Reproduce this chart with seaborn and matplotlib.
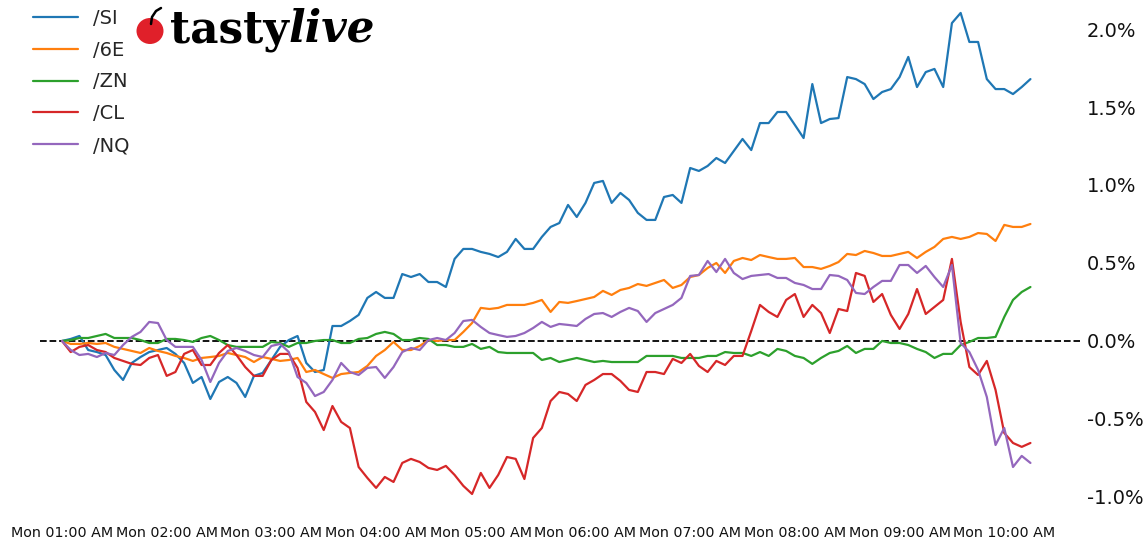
import numpy as np
import pandas as pd
import matplotlib
matplotlib.use("Agg")
import matplotlib.pyplot as plt
import matplotlib.dates as mdates
import matplotlib.ticker as mticker
from matplotlib.patches import Ellipse
from matplotlib.lines import Line2D
import seaborn as sns

# ---------------- data (percent change) ----------------
start_time = "2024-01-01 01:00"   # a Monday
n_points = 112
series_names = ["/SI", "/6E", "/ZN", "/CL", "/NQ"]
series_colors = ["#1f77b4", "#ff7f0e", "#2ca02c", "#d62728", "#9467bd"]

si = [0, 0.013, 0.032, -0.058, -0.071, -0.090, -0.186, -0.250, -0.141, -0.103,
      -0.071, -0.058, -0.045, -0.083, -0.141, -0.269, -0.231, -0.372, -0.263, -0.231,
      -0.269, -0.359, -0.224, -0.205, -0.122, -0.038, 0.006, 0.032, -0.141, -0.199,
      -0.186, 0.096, 0.096, 0.128, 0.167, 0.276, 0.314, 0.276, 0.276, 0.429,
      0.410, 0.429, 0.378, 0.378, 0.346, 0.526, 0.590, 0.590, 0.571, 0.558,
      0.538, 0.571, 0.654, 0.590, 0.590, 0.667, 0.731, 0.756, 0.872, 0.795,
      0.885, 1.013, 1.026, 0.885, 0.949, 0.904, 0.821, 0.776, 0.776, 0.923,
      0.936, 0.885, 1.109, 1.090, 1.122, 1.173, 1.141, 1.218, 1.295, 1.224,
      1.397, 1.397, 1.468, 1.468, 1.385, 1.301, 1.647, 1.397, 1.423, 1.429,
      1.692, 1.679, 1.647, 1.551, 1.596, 1.615, 1.692, 1.821, 1.628, 1.724,
      1.744, 1.628, 2.038, 2.103, 1.917, 1.917, 1.679, 1.615, 1.615, 1.583,
      1.628, 1.679]

e6 = [0, -0.019, -0.019, -0.013, -0.019, -0.013, -0.038, -0.051, -0.064, -0.077,
      -0.045, -0.064, -0.077, -0.096, -0.109, -0.128, -0.109, -0.103, -0.096, -0.077,
      -0.090, -0.103, -0.135, -0.103, -0.115, -0.128, -0.122, -0.109, -0.199, -0.186,
      -0.212, -0.237, -0.212, -0.205, -0.199, -0.160, -0.096, -0.058, -0.006, -0.058,
      -0.058, -0.032, 0.006, 0.000, 0.006, 0.006, 0.058, 0.115, 0.212, 0.205,
      0.212, 0.231, 0.231, 0.231, 0.244, 0.263, 0.186, 0.250, 0.244, 0.256,
      0.269, 0.282, 0.321, 0.295, 0.327, 0.340, 0.365, 0.353, 0.372, 0.391,
      0.340, 0.359, 0.410, 0.423, 0.468, 0.500, 0.436, 0.513, 0.532, 0.519,
      0.551, 0.538, 0.526, 0.526, 0.532, 0.474, 0.474, 0.462, 0.481, 0.506,
      0.558, 0.551, 0.577, 0.564, 0.545, 0.545, 0.558, 0.571, 0.532, 0.571,
      0.603, 0.654, 0.667, 0.654, 0.667, 0.692, 0.686, 0.641, 0.744, 0.731,
      0.731, 0.750]

zn = [0, 0.006, 0.019, 0.019, 0.032, 0.045, 0.019, 0.019, 0.019, 0.006,
      -0.013, -0.013, 0.013, 0.013, 0.006, -0.006, 0.019, 0.032, 0.006, -0.026,
      -0.038, -0.038, -0.038, -0.038, -0.006, -0.013, -0.038, -0.013, -0.013, 0.000,
      0.006, 0.006, -0.013, -0.013, 0.013, 0.019, 0.045, 0.058, 0.045, 0.006,
      0.006, 0.019, 0.013, -0.026, -0.026, -0.038, -0.038, -0.019, -0.051, -0.038,
      -0.071, -0.077, -0.077, -0.077, -0.077, -0.122, -0.109, -0.135, -0.122, -0.109,
      -0.122, -0.135, -0.128, -0.135, -0.135, -0.135, -0.135, -0.096, -0.096, -0.096,
      -0.096, -0.109, -0.109, -0.109, -0.096, -0.096, -0.071, -0.077, -0.077, -0.096,
      -0.071, -0.096, -0.051, -0.064, -0.096, -0.109, -0.147, -0.109, -0.077, -0.064,
      -0.032, -0.077, -0.051, -0.051, 0.000, -0.013, -0.013, -0.026, -0.051, -0.071,
      -0.109, -0.083, -0.083, -0.026, -0.006, 0.019, 0.019, 0.026, 0.154, 0.263,
      0.314, 0.346]

cl = [0, -0.071, -0.038, -0.026, -0.058, -0.071, -0.109, -0.128, -0.147, -0.154,
      -0.109, -0.090, -0.224, -0.199, -0.083, -0.058, -0.154, -0.154, -0.077, -0.026,
      -0.090, -0.167, -0.224, -0.224, -0.122, -0.083, -0.083, -0.173, -0.391, -0.455,
      -0.571, -0.417, -0.519, -0.558, -0.808, -0.878, -0.942, -0.872, -0.904, -0.782,
      -0.756, -0.776, -0.814, -0.827, -0.801, -0.859, -0.929, -0.981, -0.846, -0.942,
      -0.859, -0.744, -0.756, -0.885, -0.622, -0.558, -0.385, -0.327, -0.340, -0.385,
      -0.282, -0.250, -0.212, -0.212, -0.256, -0.314, -0.327, -0.199, -0.199, -0.212,
      -0.115, -0.141, -0.083, -0.160, -0.199, -0.128, -0.154, -0.096, -0.096, 0.064,
      0.231, 0.186, 0.154, 0.263, 0.301, 0.154, 0.231, 0.179, 0.051, 0.205,
      0.192, 0.436, 0.417, 0.250, 0.301, 0.167, 0.077, 0.173, 0.333, 0.173,
      0.218, 0.263, 0.526, 0.122, -0.167, -0.218, -0.128, -0.314, -0.590, -0.654,
      -0.679, -0.654]

nq = [0, -0.058, -0.090, -0.083, -0.103, -0.077, -0.090, -0.026, 0.026, 0.058,
      0.122, 0.115, 0.006, -0.038, -0.038, -0.038, -0.122, -0.263, -0.141, -0.064,
      -0.045, -0.064, -0.090, -0.103, -0.032, -0.019, -0.071, -0.231, -0.269, -0.353,
      -0.327, -0.250, -0.141, -0.199, -0.218, -0.173, -0.167, -0.237, -0.167, -0.071,
      -0.045, -0.058, 0.006, 0.019, 0.006, 0.051, 0.128, 0.135, 0.090, 0.051,
      0.038, 0.026, 0.032, 0.051, 0.083, 0.122, 0.090, 0.109, 0.103, 0.096,
      0.141, 0.173, 0.179, 0.154, 0.186, 0.212, 0.192, 0.122, 0.179, 0.205,
      0.231, 0.276, 0.417, 0.423, 0.513, 0.442, 0.526, 0.436, 0.397, 0.417,
      0.423, 0.429, 0.404, 0.404, 0.372, 0.359, 0.333, 0.333, 0.423, 0.417,
      0.391, 0.308, 0.301, 0.346, 0.385, 0.385, 0.487, 0.487, 0.436, 0.481,
      0.410, 0.346, 0.487, -0.013, -0.071, -0.186, -0.359, -0.667, -0.558, -0.808,
      -0.737, -0.782]

y_ticks = [-1.0, -0.5, 0.0, 0.5, 1.0, 1.5, 2.0]

# ---------------- build long table ----------------
times = pd.date_range(start_time, periods=n_points, freq="5min")
frames = []
for name, vals in zip(series_names, [si, e6, zn, cl, nq]):
    frames.append(pd.DataFrame({"time": times, "value": vals, "series": name}))
df = pd.concat(frames, ignore_index=True)

# ---------------- figure ----------------
sns.set_theme(style="white")
plt.rcParams["font.family"] = ["DejaVu Sans"]

W, H = 1147, 547
fig = plt.figure(figsize=(W / 100, H / 100), dpi=100)
ax = fig.add_axes([40 / W, 29 / H, (1080 - 40) / W, (H - 29) / H])

sns.lineplot(data=df, x="time", y="value", hue="series",
             palette=dict(zip(series_names, series_colors)),
             hue_order=series_names, linewidth=1.6, ax=ax)

ax.axhline(0, color="black", linestyle="--", linewidth=1.3, zorder=0)

t0 = pd.Timestamp(start_time)
ax.set_xlim(mdates.date2num(t0 - pd.Timedelta(minutes=12.6)),
            mdates.date2num(t0 + pd.Timedelta(minutes=583.4)))
ax.set_ylim(-1.135, 2.186)

ax.xaxis.set_major_locator(mdates.HourLocator())
ax.xaxis.set_major_formatter(mdates.DateFormatter("Mon %I:%M %p"))
ax.yaxis.tick_right()
ax.set_yticks(y_ticks)
ax.yaxis.set_major_formatter(mticker.FuncFormatter(lambda v, p: f"{v:.1f}%"))
ax.tick_params(axis="x", length=0, pad=6, labelsize=10.3, colors="#111111")
ax.tick_params(axis="y", length=0, pad=5, labelsize=14, colors="#111111")
ax.set_xlabel("")
ax.set_ylabel("")
for s in ax.spines.values():
    s.set_visible(False)

handles, labels = ax.get_legend_handles_labels()
ax.legend(handles, labels, loc="upper left", frameon=False, fontsize=14,
          bbox_to_anchor=(25 / W, 1 - 1 / H), bbox_transform=fig.transFigure,
          borderaxespad=0, handlelength=2.3, handletextpad=0.8, labelspacing=0.66)

# ---------------- logo ----------------
fig.patches.append(Ellipse((150 / W, 1 - 31 / H), 27 / W, 26 / H, transform=fig.transFigure,
                           facecolor="#e0202a", edgecolor="none", zorder=5))
fig.add_artist(Line2D([151 / W, 152 / W, 156 / W, 161 / W],
                      [1 - 24 / H, 1 - 17 / H, 1 - 11 / H, 1 - 8 / H],
                      transform=fig.transFigure, color="black", linewidth=1.8, zorder=6))
t1 = fig.text(170 / W, 1 - 42 / H, "tasty", fontsize=31.5, family="DejaVu Serif",
              weight="heavy", color="black", va="baseline", ha="left")
fig.canvas.draw()
bb = t1.get_window_extent()
fig.text(bb.x1 / W, 1 - 42 / H, "live", fontsize=31.5, family="DejaVu Serif",
         weight="heavy", style="italic", color="black", va="baseline", ha="left")

fig.savefig("out.png", dpi=100)
